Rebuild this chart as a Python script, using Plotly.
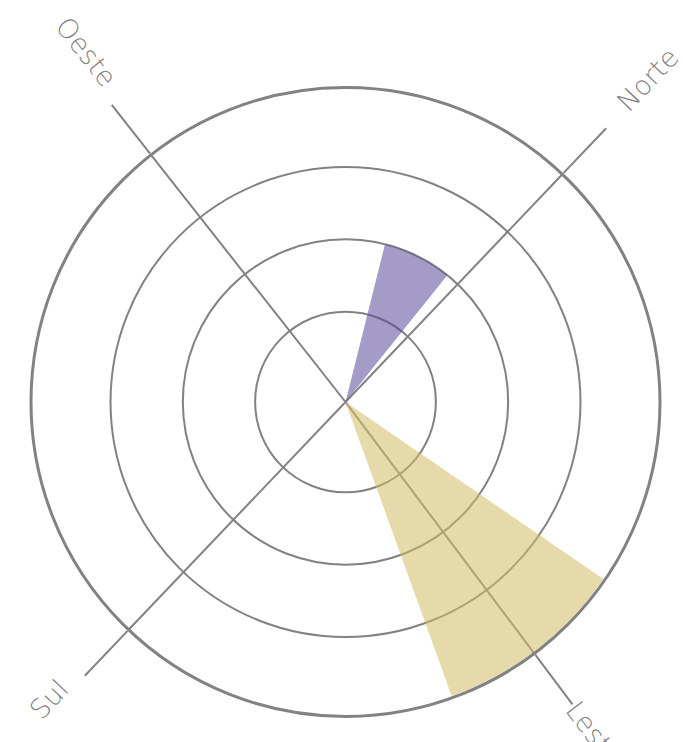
import math
import plotly.graph_objects as go

# Compass directions on the angular axis (degrees, clockwise from Norte)
directions = ["Norte", "Leste", "Sul", "Oeste"]
direction_angles = [0, 99.5, 180, 278.2]

# Sectors: centre angle, angular width and radial value
sector_theta = [342.8, 98.7]
sector_width = [24.7, 35.7]
sector_r = [45, 86.5]
sector_colors = ["rgba(90,75,151,0.55)", "rgba(211,188,100,0.55)"]

# Radial grid circles
radial_ticks = [25, 45, 65]
radial_max = 87

W, H = 683, 742
CX, CY, RAD = 345.5, 402.0, 314.5
ROTATION = 46.4
GREY = "#828282"

fig = go.Figure()
for th, wd, r, col in zip(sector_theta, sector_width, sector_r, sector_colors):
    fig.add_trace(go.Barpolar(
        r=[r], theta=[th], width=[wd],
        marker=dict(color=col, line=dict(width=0)),
        hoverinfo="skip", showlegend=False,
    ))

# Rotated direction labels placed just past the tick ends:
# (distance from centre, sideways shift) in pixels
label_place = {"Norte": (442, 4), "Leste": (414, 0), "Sul": (420, -10), "Oeste": (436, -13)}
annotations = []
for name, th in zip(directions, direction_angles):
    a = math.radians(ROTATION - th)
    rr, side = label_place[name]
    px = CX + rr * math.cos(a) - side * math.sin(a)
    py = CY - rr * math.sin(a) - side * math.cos(a)
    a_read = ((math.degrees(a) + 90) % 180) - 90
    annotations.append(dict(
        x=px / W, y=1 - py / H, xref="paper", yref="paper",
        text=name, showarrow=False, textangle=-a_read,
        xanchor="center", yanchor="middle",
        font=dict(family="DejaVu Sans", size=27, color=GREY, weight=200),
    ))

fig.update_layout(
    width=W, height=H,
    margin=dict(l=0, r=0, t=0, b=0),
    paper_bgcolor="white",
    template="none",
    showlegend=False,
    annotations=annotations,
    polar=dict(
        domain=dict(x=[(CX - RAD) / W, (CX + RAD) / W],
                    y=[(H - CY - RAD) / H, (H - CY + RAD) / H]),
        bgcolor="white",
        angularaxis=dict(
            type="linear", rotation=ROTATION, direction="clockwise",
            tickmode="array", tickvals=direction_angles, ticktext=directions,
            showticklabels=False, ticks="outside", ticklen=62, tickwidth=2.3,
            tickcolor=GREY, showgrid=True, gridcolor=GREY, gridwidth=2.3,
            showline=True, linecolor=GREY, linewidth=3,
        ),
        radialaxis=dict(
            range=[0, radial_max], tickmode="array", tickvals=radial_ticks,
            showticklabels=False, ticks="", showline=False,
            showgrid=True, gridcolor=GREY, gridwidth=2.3,
        ),
    ),
)

fig.write_html("out.html")
